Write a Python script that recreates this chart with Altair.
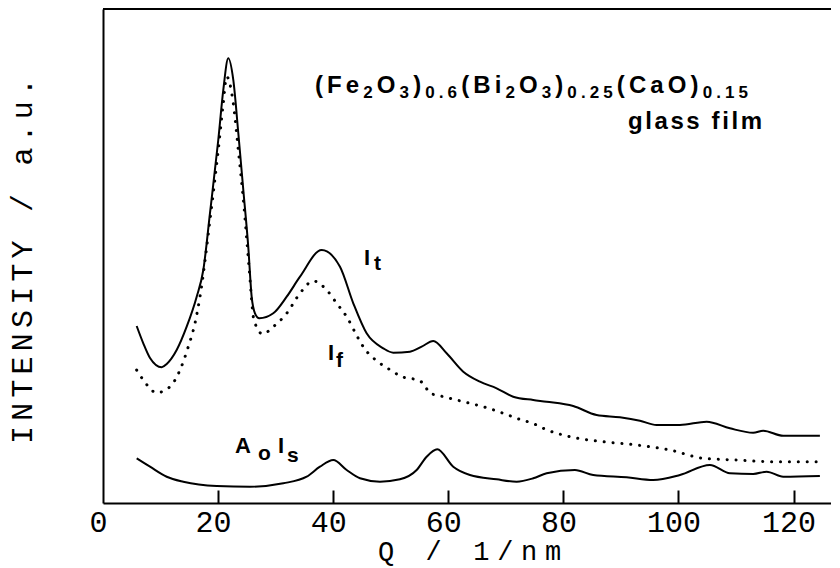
import altair as alt
import pandas as pd

# ---- data (Q in 1/nm, intensity in arbitrary units) ----
q_t = [5.85, 7.00, 8.17, 10.20, 11.07, 12.80, 14.54, 16.28, 17.43, 18.59,
       20.03, 20.90, 21.77, 22.64, 23.51, 24.38, 25.24, 25.83, 26.41, 27.16,
       29.59, 31.92, 34.23, 38.00, 41.18, 43.49, 45.81, 48.70, 50.44, 53.34,
       55.37, 57.39, 59.71, 62.60, 65.50, 68.40, 71.28, 74.76, 77.09, 81.71,
       85.77, 89.82, 93.30, 96.20, 100.25, 104.89, 108.94, 112.98, 114.72, 118.19,
       124.57]
i_t = [35.83, 32.33, 29.35, 27.47, 28.14, 30.97, 35.69, 41.76, 47.17, 58.70,
       73.48, 83.60, 90.02, 85.63, 74.90, 63.36, 51.88, 41.76, 38.40, 37.39,
       38.40, 41.76, 45.81, 51.21, 47.83, 40.43, 34.35, 31.32, 30.43, 30.63,
       31.64, 32.79, 30.30, 26.58, 24.55, 23.22, 21.52, 20.85, 20.51, 19.64,
       17.81, 17.35, 16.66, 15.79, 15.79, 16.46, 15.12, 14.23, 14.64, 13.62,
       13.62]

q_f = [5.85, 7.00, 9.33, 11.64, 13.38, 14.82, 15.98, 16.85, 18.59, 20.03,
       20.90, 21.49, 22.64, 23.51, 24.50, 25.37, 26.23, 27.75, 29.59, 31.92,
       34.23, 36.54, 38.87, 40.60, 42.34, 44.36, 45.22, 48.13, 50.44, 51.60,
       54.50, 55.65, 56.81, 57.98, 60.29, 63.76, 66.07, 69.55, 71.88, 75.35,
       76.50, 81.14, 86.92, 92.72, 98.51, 104.29, 110.10, 115.88, 124.00]
i_f = [26.92, 24.90, 22.33, 23.54, 26.92, 31.64, 36.38, 41.76, 57.29, 71.46,
       80.91, 86.30, 80.91, 71.46, 59.98, 47.83, 37.04, 34.21, 35.69, 38.40,
       42.45, 44.94, 43.12, 40.43, 37.71, 33.34, 31.64, 28.28, 26.58, 25.71,
       24.90, 24.23, 22.21, 21.86, 21.19, 20.18, 19.49, 18.16, 17.15, 15.79,
       15.12, 13.42, 12.41, 11.74, 10.73, 9.05, 8.70, 8.36, 8.36]

q_s = [5.85, 8.17, 11.07, 13.95, 19.75, 25.54, 31.33, 35.39, 37.70, 40.01,
       42.34, 44.65, 48.13, 51.60, 54.50, 56.24, 58.08, 60.86, 63.76, 68.40,
       71.88, 74.76, 77.09, 82.00, 85.18, 90.99, 95.61, 100.25, 105.46, 108.94,
       112.98, 115.31, 118.19, 124.57]
i_s = [9.05, 7.35, 5.32, 4.31, 3.44, 3.30, 3.99, 5.32, 7.35, 8.70,
       6.68, 5.00, 4.31, 4.80, 6.68, 9.37, 10.87, 7.35, 5.67, 4.80,
       4.31, 5.00, 6.01, 6.68, 5.67, 5.20, 4.66, 5.67, 7.69, 6.01,
       5.87, 6.34, 5.32, 5.47]

tick_q = [20, 40, 60, 80, 100, 120]
label_q = [0, 20, 40, 60, 80, 100, 120]

x_title = "Q / 1/nm"
y_title = "INTENSITY / a.u."
formula_runs = [("(Fe", "m"), ("2", "s"), ("O", "m"), ("3", "s"), (")", "m"), ("0.6", "s"),
                ("(Bi", "m"), ("2", "s"), ("O", "m"), ("3", "s"), (")", "m"), ("0.25", "s"),
                ("(CaO", "m"), (")", "m"), ("0.15", "s")]
sub_title = "glass film"

# ---- layout ----
W, H = 728, 494
MONO = "Liberation Mono"
SANS = "Liberation Sans"
TICK = 13

xscale = alt.Scale(domain=[0, 126.5], nice=False, zero=False)
yscale = alt.Scale(domain=[0, 100], nice=False, zero=False)

xaxis = alt.Axis(values=label_q, title="", grid=False, ticks=False, tickSize=0,
                 domain=True, domainColor="black", domainWidth=2,
                 labelFont=MONO, labelFontSize=30, labelColor="black", labelPadding=4,
                 labelOffset=-5, labelFlush=False)
# second axis that only carries the inward ticks (shifted up by the tick length)
tickaxis = alt.Axis(values=tick_q, title="", grid=False, ticks=True, tickSize=TICK,
                    tickWidth=2, tickColor="black", offset=-TICK, domain=False,
                    labels=False, orient="bottom")
yaxis = alt.Axis(grid=False, ticks=False, tickSize=0, labels=False, title="",
                 domain=True, domainColor="black", domainWidth=2)

solid_df = pd.concat([
    pd.DataFrame({"q": q_t, "v": i_t, "series": "It"}),
    pd.DataFrame({"q": q_s, "v": i_s, "series": "A0Is"}),
])
dot_df = pd.DataFrame({"q": q_f, "v": i_f, "series": "If"})
tick_df = pd.DataFrame({"q": tick_q})

solid = alt.Chart(solid_df).mark_line(color="black", strokeWidth=2, interpolate="monotone").encode(
    x=alt.X("q:Q", scale=xscale, axis=xaxis),
    y=alt.Y("v:Q", scale=yscale, axis=yaxis),
    detail="series:N",
)
dotted = alt.Chart(dot_df).mark_line(color="black", strokeWidth=3, strokeCap="round",
                                     strokeDash=[0.1, 8.8], interpolate="monotone").encode(
    x=alt.X("q:Q", scale=xscale, axis=None),
    y=alt.Y("v:Q", scale=yscale, axis=yaxis),
)
ticks = alt.Chart(tick_df).mark_point(opacity=0, size=1).encode(
    x=alt.X("q:Q", scale=xscale, axis=tickaxis),
)
top = alt.Chart(pd.DataFrame({"a": [0]})).mark_rule(color="black", strokeWidth=2).encode(
    x=alt.value(0), x2=alt.value(W), y=alt.value(0),
)


def txt(s, x, y, size, align="left", font=SANS, weight="bold", angle=0, baseline="alphabetic"):
    return alt.Chart(pd.DataFrame({"s": [s]})).mark_text(
        align=align, baseline=baseline, fontSize=size, font=font, fontWeight=weight,
        color="black", angle=angle
    ).encode(text="s:N", x=alt.value(x), y=alt.value(y))


# approximate advance widths (em) of Liberation Sans Bold, used to letter-space text
ADV = {"(": .333, ")": .333, "F": .611, "e": .556, "O": .778, "B": .722, "i": .278,
       "C": .722, "a": .556, ".": .278, "g": .611, "l": .278, "s": .556, " ": .278,
       "f": .333, "m": .889}


def spread(items, x0, x1):
    """items: list of (char, size, baseline); spreads chars evenly between x0 and x1."""
    widths = [ADV.get(c, .556) * size for c, size, _ in items]
    gap = (x1 - x0 - sum(widths)) / (len(items) - 1)
    out, x = [], x0
    for (c, size, base), w in zip(items, widths):
        if c != " ":
            out.append(txt(c, x, base, size))
        x += w + gap
    return out


MB, SB = 84, 89   # baselines of formula main text and subscripts (plot px)
MS, SS = 24, 17
items = []
for s, kind in formula_runs:
    for c in s:
        items.append((c, MS if kind == "m" else SS, MB if kind == "m" else SB))
texts = spread(items, 212, 645)
texts += spread([(c, 24, 120) for c in sub_title], 525, 659)

# curve labels
texts += [
    txt("I", 261, 256, 22), txt("t", 271, 261, 21),
    txt("I", 225, 351, 22), txt("f", 233, 358, 21),
    txt("A", 132, 444, 22), txt("o", 155, 451, 21), txt("I", 175, 444, 22), txt("s", 184, 453, 21),
]

# axis titles, letter-spaced like the reference
n = len(x_title)
for i, c in enumerate(x_title):
    if c != " ":
        texts.append(txt(c, 283 + i * (167 / (n - 1)), 543, 27, align="center", font=MONO,
                         weight="normal", baseline="middle"))
n = len(y_title)
for i, c in enumerate(y_title):
    if c != " ":
        texts.append(txt(c, -80, 426 - i * 23.2, 30, align="center", font=MONO,
                         weight="normal", baseline="middle", angle=270))

chart = alt.layer(solid, dotted, ticks, top, *texts).resolve_axis(x="independent").properties(
    width=W, height=H,
    autosize=alt.AutoSizeParams(type="none"),
    padding={"left": 95, "top": 1, "right": 0, "bottom": 65},
    background="white",
).configure_view(strokeWidth=0)

chart.save("out.html", embed_options={"renderer": "svg", "actions": False})
